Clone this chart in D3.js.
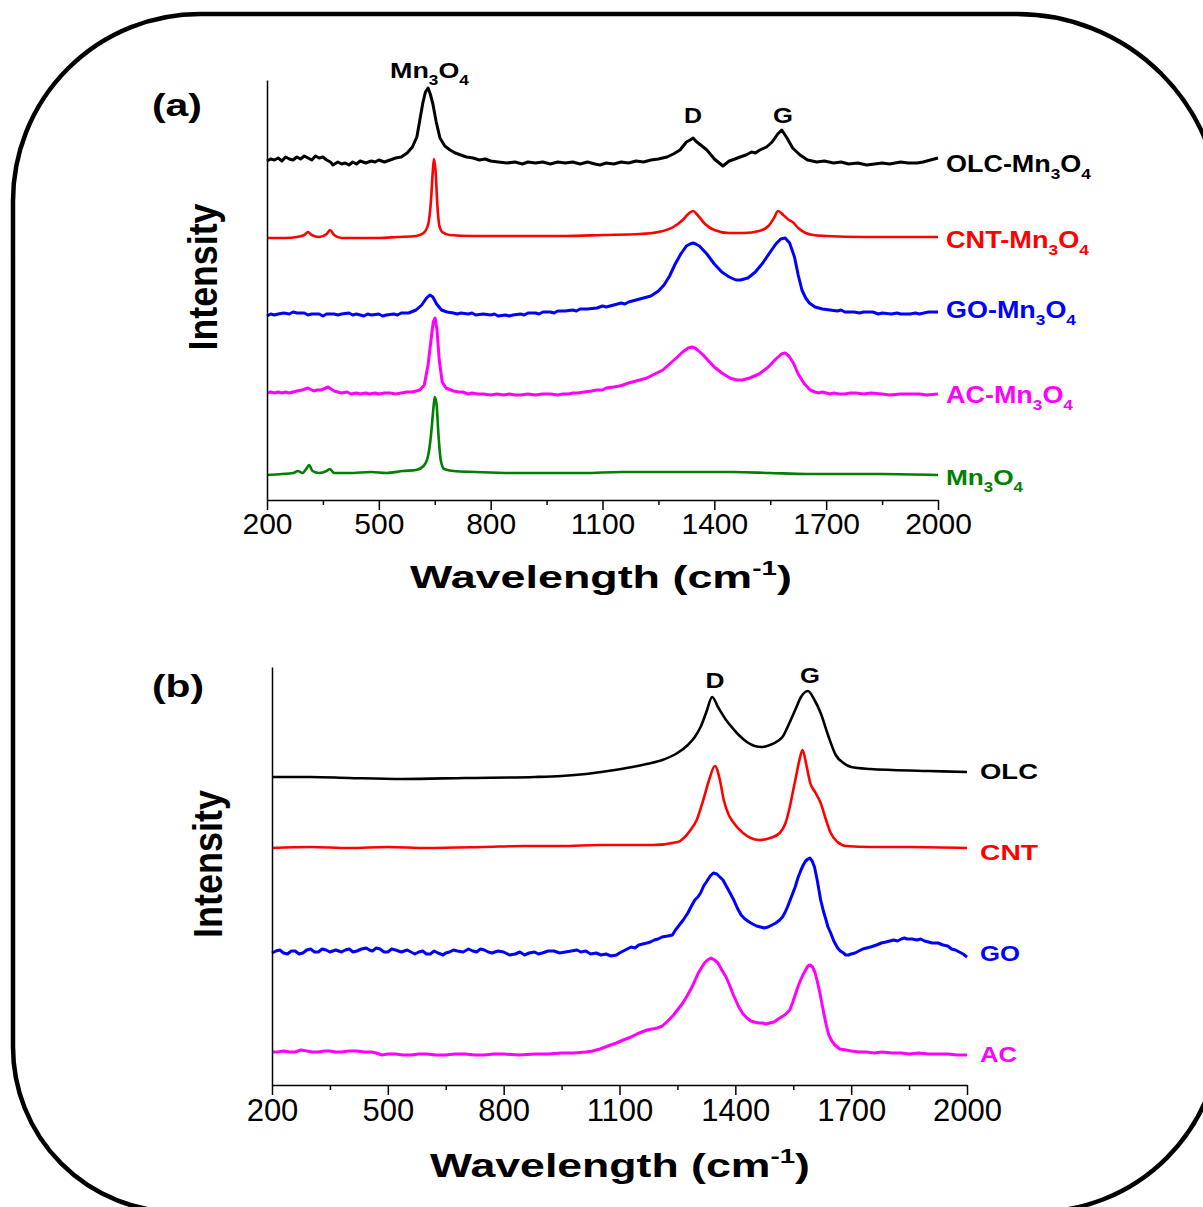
<!DOCTYPE html>
<html>
<head>
<meta charset="utf-8">
<script src="https://cdn.jsdelivr.net/npm/d3@7"></script>
<style>
  html, body { margin: 0; padding: 0; background: #fff; }
  svg { display: block; }
</style>
</head>
<body>
<svg id="chart" width="1203" height="1207"></svg>
<script>
// Raman spectra, stacked (intensity in a.u., offsets included), wavenumber in cm^-1

// ---- panel (a): carbon–Mn3O4 composites ----
const olcMn3O4 = [[200,339],[210,341],[220,340],[230,342],[240,339],[250,343],[260,341],[270,340],[280,343],[290,341],[300,344],[310,342],[320,340],[330,344],[340,342],[350,343],[360,340],[370,338],[377,335],[390,338],[400,336],[410,337],[420,335],[430,338],[440,336],[450,339],[465,337],[480,339],[490,338],[500,340],[515,338],[530,340],[545,342],[560,343],[576,347],[590,353],[602,363],[610,380],[618,397],[625,408],[632,412],[638,406],[645,396],[654,378],[664,362],[677,354],[691,350],[705,347],[720,345],[735,343],[753,342],[770,340],[785,341],[800,339],[820,338],[844,337],[865,338],[885,336],[900,338],[920,337],[940,338],[960,336],[980,338],[1000,337],[1020,338],[1040,336],[1060,338],[1080,336],[1093,335],[1110,337],[1130,336],[1150,338],[1170,337],[1190,339],[1210,338],[1230,340],[1250,341],[1273,343],[1290,346],[1308,350],[1325,358],[1335,360],[1343,362],[1350,359],[1360,356],[1380,350],[1400,341],[1423,334],[1440,339],[1455,341],[1469,343],[1485,345],[1500,348],[1510,347],[1522,350],[1540,353],[1555,358],[1570,366],[1581,370],[1595,362],[1610,352],[1630,345],[1650,340],[1675,338],[1695,339],[1720,337],[1740,338],[1760,336],[1785,337],[1809,335],[1830,336],[1850,337],[1870,336],[1900,338],[1920,337],[1944,337],[1960,338],[1980,340],[2000,342]];

const cntMn3O4 = [[200,262],[250,262],[280,263],[300,265],[310,268],[320,265],[340,263],[360,266],[369,270],[380,265],[400,262],[450,262],[500,262],[550,263],[600,264],[620,267],[632,275],[640,300],[645,330],[648,341],[652,330],[657,295],[662,275],[670,268],[690,265],[750,264],[850,264],[1000,264],[1100,265],[1200,266],[1250,268],[1290,273],[1315,280],[1330,286],[1343,289],[1355,285],[1375,276],[1400,270],[1440,267],[1480,267],[1520,269],[1545,274],[1560,282],[1571,289],[1585,285],[1600,280],[1610,278],[1625,272],[1645,267],[1665,265],[1700,264],[1800,263],[1900,263],[2000,263]];

const goMn3O4 = [[200,184],[210,186],[220,185],[230,186],[245,187],[260,186],[270,188],[280,187],[300,187],[310,185],[320,186],[340,186],[350,184],[360,186],[380,186],[390,185],[400,186],[420,187],[430,185],[440,186],[460,184],[470,186],[480,185],[500,186],[510,184],[520,185],[540,186],[550,185],[560,187],[580,187],[600,190],[615,195],[628,202],[637,205],[645,203],[655,196],[668,190],[683,188],[700,187],[710,186],[720,187],[740,186],[750,187],[760,185],[780,186],[800,185],[810,186],[820,184],[840,185],[850,184],[860,185],[880,186],[890,185],[900,187],[920,187],[930,186],[940,188],[960,188],[970,187],[980,189],[1000,189],[1020,190],[1030,189],[1040,191],[1060,191],[1085,192],[1100,194],[1110,193],[1130,195],[1150,197],[1160,196],[1170,198],[1190,200],[1210,202],[1230,204],[1250,209],[1265,215],[1280,224],[1295,236],[1310,246],[1325,254],[1335,256],[1343,257],[1350,256],[1360,254],[1380,246],[1400,236],[1420,228],[1440,223],[1458,220],[1470,220],[1490,222],[1510,228],[1530,237],[1550,248],[1565,256],[1578,261],[1590,262],[1602,257],[1615,243],[1625,225],[1635,210],[1645,202],[1655,197],[1670,193],[1690,191],[1710,190],[1730,189],[1740,190],[1750,188],[1775,188],[1790,187],[1800,188],[1825,188],[1840,186],[1850,187],[1875,186],[1890,187],[1900,186],[1925,186],[1940,187],[1950,186],[1975,188],[2000,188]];

const acMn3O4 = [[200,107],[210,108],[220,107],[230,108],[240,107],[250,108],[260,107],[270,108],[280,109],[295,110],[310,112],[325,109],[335,110],[345,110],[364,113],[380,109],[390,108],[400,107],[415,108],[425,106],[440,107],[450,106],[465,107],[475,106],[490,107],[500,106],[515,107],[530,107],[545,106],[560,107],[575,108],[590,108],[610,110],[622,115],[632,135],[640,160],[646,178],[651,182],[656,170],[662,140],[670,118],[680,112],[700,109],[715,108],[725,108],[740,106],[750,107],[765,106],[780,106],[800,105],[817,106],[835,105],[850,106],[865,105],[880,105],[900,106],[920,105],[940,106],[960,106],[980,105],[994,106],[1010,106],[1020,107],[1035,107],[1050,108],[1070,109],[1085,110],[1100,110],[1110,112],[1130,113],[1145,114],[1155,115],[1170,117],[1180,118],[1200,120],[1219,122],[1240,126],[1262,130],[1280,136],[1298,142],[1315,148],[1330,152],[1340,153],[1348,152],[1355,150],[1370,145],[1385,139],[1400,133],[1420,127],[1442,122],[1460,120],[1475,120],[1495,122],[1520,126],[1545,133],[1565,141],[1580,146],[1590,147],[1600,144],[1612,137],[1625,126],[1640,117],[1657,110],[1670,108],[1680,107],[1690,108],[1700,107],[1710,106],[1720,107],[1735,106],[1750,106],[1765,107],[1780,107],[1800,106],[1820,107],[1850,106],[1870,105],[1900,106],[1920,106],[1950,106],[1970,105],[2000,106]];

const mn3O4 = [[200,25],[240,26],[270,27],[283,29],[295,27],[305,31],[313,35],[322,29],[340,27],[360,29],[369,31],[380,27],[420,27],[480,28],[520,27],[565,29],[600,30],[620,34],[632,44],[640,65],[646,90],[650,103],[655,95],[660,65],[666,40],[675,31],[700,29],[760,28],[850,27],[950,27],[1050,27],[1150,28],[1250,28],[1350,28],[1450,28],[1550,27],[1650,26],[1750,26],[1850,26],[2000,25]];

// ---- panel (b): bare carbons ----
const olc = [[200,308],[300,308],[400,307],[537,306],[700,307],[881,308],[950,309],[1013,311],[1070,314],[1118,317],[1170,321],[1211,325],[1250,332],[1277,340],[1295,348],[1310,358],[1325,373],[1340,388],[1355,378],[1376,365],[1395,356],[1409,350],[1430,343],[1450,339],[1469,338],[1490,340],[1510,344],[1522,348],[1540,362],[1555,375],[1570,388],[1588,394],[1605,385],[1621,372],[1640,350],[1660,330],[1680,322],[1700,318],[1750,316],[1806,315],[1900,314],[2000,313]];

const cnt = [[200,237],[300,238],[400,237],[500,238],[600,237],[748,238],[850,239],[950,239],[1050,240],[1185,240],[1251,243],[1284,255],[1300,265],[1317,285],[1332,305],[1347,319],[1360,305],[1370,285],[1383,270],[1396,262],[1420,252],[1440,247],[1462,245],[1490,247],[1515,252],[1530,262],[1541,278],[1550,295],[1557,308],[1566,325],[1574,335],[1584,320],[1594,302],[1608,292],[1621,282],[1635,265],[1647,252],[1665,243],[1687,239],[1750,238],[1850,238],[2000,237]];

const go = [[200,132],[210,134],[220,135],[230,132],[240,131],[250,134],[260,134],[270,131],[280,132],[290,135],[300,136],[310,133],[320,133],[330,136],[340,135],[350,133],[365,135],[380,133],[390,135],[400,136],[410,133],[420,134],[432,136],[444,137],[452,135],[460,134],[470,137],[480,136],[490,133],[500,133],[510,136],[520,135],[535,133],[550,135],[560,133],[570,131],[580,133],[590,134],[600,131],[610,131],[620,134],[630,132],[643,130],[650,132],[660,133],[670,135],[680,134],[695,133],[709,136],[720,134],[730,133],[740,136],[750,135],[760,133],[770,132],[785,134],[800,133],[815,130],[830,131],[842,133],[854,130],[866,132],[880,133],[890,131],[900,132],[915,134],[930,134],[945,132],[960,133],[975,134],[990,135],[1000,133],[1013,134],[1025,131],[1040,132],[1052,130],[1065,131],[1078,129],[1092,130],[1100,132],[1110,134],[1120,136],[1130,138],[1140,137],[1150,140],[1160,141],[1171,142],[1180,143],[1190,145],[1200,146],[1210,148],[1225,149],[1237,150],[1245,155],[1255,160],[1265,165],[1277,172],[1285,178],[1295,185],[1303,188],[1310,192],[1318,199],[1325,203],[1335,209],[1343,212],[1352,211],[1360,208],[1368,205],[1375,200],[1385,193],[1396,185],[1405,177],[1415,170],[1425,166],[1436,163],[1445,161],[1455,159],[1465,158],[1475,157],[1485,158],[1495,160],[1505,162],[1515,165],[1522,168],[1528,172],[1535,178],[1542,185],[1548,191],[1555,198],[1562,207],[1570,215],[1576,220],[1582,224],[1588,226],[1593,227],[1599,224],[1605,218],[1612,205],[1621,185],[1628,174],[1635,165],[1640,158],[1647,152],[1655,144],[1665,137],[1672,134],[1680,132],[1686,130],[1693,130],[1700,131],[1710,132],[1720,134],[1730,136],[1740,137],[1750,138],[1758,139],[1766,140],[1778,142],[1790,143],[1800,144],[1810,145],[1820,144],[1830,146],[1838,147],[1845,146],[1858,146],[1870,145],[1880,146],[1890,144],[1900,143],[1910,142],[1925,142],[1938,140],[1950,139],[1960,136],[1970,135],[1980,133],[1990,131],[2000,128]];

const ac = [[200,33],[215,33],[230,34],[245,33],[260,33],[275,35],[290,34],[305,33],[320,33],[335,34],[350,34],[365,33],[380,33],[400,34],[420,34],[440,33],[458,33],[470,32],[484,30],[500,31],[520,31],[540,30],[560,30],[580,31],[600,31],[625,30],[650,30],[675,31],[700,31],[725,30],[750,30],[775,31],[800,31],[840,30],[881,31],[915,31],[950,32],[980,32],[1013,33],[1030,34],[1050,36],[1070,39],[1092,42],[1110,45],[1130,48],[1145,51],[1158,53],[1172,55],[1185,56],[1198,57],[1211,59],[1225,64],[1240,70],[1252,76],[1264,82],[1275,89],[1285,96],[1295,104],[1304,112],[1312,117],[1320,122],[1328,125],[1337,127],[1346,125],[1355,122],[1365,115],[1376,108],[1386,99],[1395,90],[1402,84],[1409,78],[1420,71],[1430,67],[1440,64],[1449,63],[1460,62],[1470,62],[1480,61],[1489,62],[1500,63],[1515,67],[1528,70],[1541,75],[1548,82],[1555,90],[1562,98],[1568,104],[1575,110],[1582,115],[1588,119],[1594,120],[1600,118],[1606,113],[1612,104],[1618,94],[1624,82],[1630,70],[1636,59],[1642,50],[1650,44],[1658,40],[1670,36],[1687,35],[1700,34],[1720,33],[1740,33],[1760,32],[1780,33],[1806,32],[1830,32],[1850,31],[1875,32],[1900,31],[1925,31],[1950,31],[1975,30],[2000,30]];

// axis ticks
const majorTicks = [200, 500, 800, 1100, 1400, 1700, 2000];
const minorTicks = [350, 650, 950, 1250, 1550, 1850];

// series names (text parts: [string, "n" normal | "sub" subscript])
const namesA = [
  [["OLC-Mn","n"],["3","sub"],["O","n"],["4","sub"]],
  [["CNT-Mn","n"],["3","sub"],["O","n"],["4","sub"]],
  [["GO-Mn","n"],["3","sub"],["O","n"],["4","sub"]],
  [["AC-Mn","n"],["3","sub"],["O","n"],["4","sub"]],
  [["Mn","n"],["3","sub"],["O","n"],["4","sub"]]
];
const namesB = ["OLC", "CNT", "GO", "AC"];
const colorsA = ["#000000", "#ff0000", "#0000ff", "#ff00ff", "#007f00"];
const colorsB = ["#000000", "#ff0000", "#0000ff", "#ff00ff"];

const FONT = "'Liberation Sans', Arial, Helvetica, sans-serif";
const svg = d3.select("#chart");

// rounded frame around both panels
(function frame() {
  const L = 13, T = 14, R = 1221, B = 1212;
  const rTL = 187, rTR = 204, rBR = 185, rBL = 165;
  const p = `M${L + rTL},${T} H${R - rTR} A${rTR},${rTR} 0 0 1 ${R},${T + rTR}` +
            ` V${B - rBR} A${rBR},${rBR} 0 0 1 ${R - rBR},${B}` +
            ` H${L + rBL} A${rBL},${rBL} 0 0 1 ${L},${B - rBL}` +
            ` V${T + rTL} A${rTL},${rTL} 0 0 1 ${L + rTL},${T} Z`;
  svg.append("path").attr("d", p).attr("fill", "none")
     .attr("stroke", "#000").attr("stroke-width", 4.5);
})();

// bold text with sub/superscripts, squeezed or stretched to a given width
function richText(parent, o) {
  const g = parent.append("g");
  const t = g.append("text")
    .attr("font-family", FONT)
    .attr("font-weight", o.weight || "bold")
    .attr("font-size", o.size)
    .attr("fill", o.color || "#000");
  const parts = typeof o.parts === "string" ? [[o.parts, "n"]] : o.parts;
  let shift = 0;
  parts.forEach(([s, kind]) => {
    let target = 0, fs = o.size;
    if (kind === "sub") { target = o.size * 0.30; fs = o.size * 0.64; }
    if (kind === "sup") { target = -o.size * 0.42; fs = o.size * 0.62; }
    t.append("tspan").attr("dy", target - shift).attr("font-size", fs).text(s);
    shift = target;
  });
  const w = t.node().getComputedTextLength();
  const k = o.width ? o.width / w : 1;
  let x0 = 0;
  if (o.anchor === "middle") x0 = -w / 2;
  t.attr("x", x0);
  g.attr("transform", `translate(${o.x},${o.y}) rotate(${o.rotate || 0}) scale(${k},1)`);
  return g;
}

function panel(cfg) {
  const x = d3.scaleLinear().domain([200, 2000]).range([cfg.x0, cfg.x1]);
  const y = d3.scaleLinear().domain([0, cfg.yBase - cfg.yTop]).range([cfg.yBase, cfg.yTop]);
  const g = svg.append("g");

  // spectra: noisy traces drawn point to point, smooth ones interpolated
  cfg.series.forEach((s, i) => {
    const line = d3.line().x(d => x(d[0])).y(d => y(d[1]))
      .curve(cfg.noisy[i] ? d3.curveLinear : d3.curveMonotoneX);
    g.append("path").datum(s).attr("d", line).attr("fill", "none")
      .attr("stroke", cfg.colors[i]).attr("stroke-width", cfg.widths[i])
      .attr("stroke-linejoin", "round");
  });

  // x axis: major ticks with labels, minor ticks without
  const ax = g.append("g").attr("transform", `translate(0,${cfg.yBase})`)
    .call(d3.axisBottom(x).tickValues(majorTicks).tickSize(10).tickSizeOuter(0)
      .tickPadding(cfg.tickPad).tickFormat(d3.format("d")));
  ax.selectAll("text").attr("font-family", FONT).attr("font-size", cfg.tickFont).attr("fill", "#000");
  ax.select(".domain").attr("stroke-width", 1.5);
  ax.selectAll(".tick line").attr("stroke-width", 1.5);
  const mx = g.append("g").attr("transform", `translate(0,${cfg.yBase})`)
    .call(d3.axisBottom(x).tickValues(minorTicks).tickSize(5).tickSizeOuter(0).tickFormat(""));
  mx.select(".domain").remove();
  mx.selectAll(".tick line").attr("stroke-width", 1.5);

  // y axis: plain line, no ticks
  const ay = g.append("g").attr("transform", `translate(${cfg.x0},0)`)
    .call(d3.axisLeft(y).tickValues([]).tickSizeOuter(0));
  ay.select(".domain").attr("stroke-width", 1.5);

  return { x, y, g };
}

// ---------------- panel (a) ----------------
panel({
  x0: 267, x1: 938, yBase: 500, yTop: 80, tickPad: 3, tickFont: 30,
  series: [olcMn3O4, cntMn3O4, goMn3O4, acMn3O4, mn3O4],
  colors: colorsA, widths: [3, 2.6, 3, 3, 2.6],
  noisy: [true, false, true, true, false]
});
richText(svg, { x: 152, y: 116, parts: "(a)", size: 32, width: 50 });
richText(svg, { x: 217, y: 277, parts: "Intensity", size: 40, width: 147, rotate: -90, anchor: "middle" });
richText(svg, { x: 410, y: 588, parts: [["Wavelength (cm","n"],["-1","sup"],[")","n"]], size: 32, width: 382 });
richText(svg, { x: 390, y: 78, parts: [["Mn","n"],["3","sub"],["O","n"],["4","sub"]], size: 22, width: 79 });
richText(svg, { x: 693, y: 123, parts: "D", size: 22, width: 18, anchor: "middle" });
richText(svg, { x: 783, y: 123, parts: "G", size: 22, width: 20, anchor: "middle" });
const labA = [
  { y: 172, w: 145 }, { y: 248, w: 143 }, { y: 318, w: 130 }, { y: 403, w: 127 }, { y: 485, w: 77 }
];
labA.forEach((l, i) => {
  richText(svg, { x: 946, y: l.y, parts: namesA[i], size: 23, width: l.w, color: colorsA[i] });
});

// ---------------- panel (b) ----------------
panel({
  x0: 272, x1: 967, yBase: 1085, yTop: 667, tickPad: 4, tickFont: 31,
  series: [olc, cnt, go, ac],
  colors: colorsB, widths: [2.6, 2.6, 3, 3],
  noisy: [false, false, true, true]
});
richText(svg, { x: 152, y: 697, parts: "(b)", size: 32, width: 52 });
richText(svg, { x: 222, y: 864, parts: "Intensity", size: 40, width: 148, rotate: -90, anchor: "middle" });
richText(svg, { x: 430, y: 1177, parts: [["Wavelength (cm","n"],["-1","sup"],[")","n"]], size: 34, width: 380 });
richText(svg, { x: 715, y: 688, parts: "D", size: 22, width: 19, anchor: "middle" });
richText(svg, { x: 810, y: 683, parts: "G", size: 22, width: 20, anchor: "middle" });
const labB = [
  { y: 779, w: 58 }, { y: 860, w: 58 }, { y: 961, w: 40 }, { y: 1062, w: 37 }
];
labB.forEach((l, i) => {
  richText(svg, { x: 980, y: l.y, parts: namesB[i], size: 22, width: l.w, color: colorsB[i] });
});
</script>
</body>
</html>
